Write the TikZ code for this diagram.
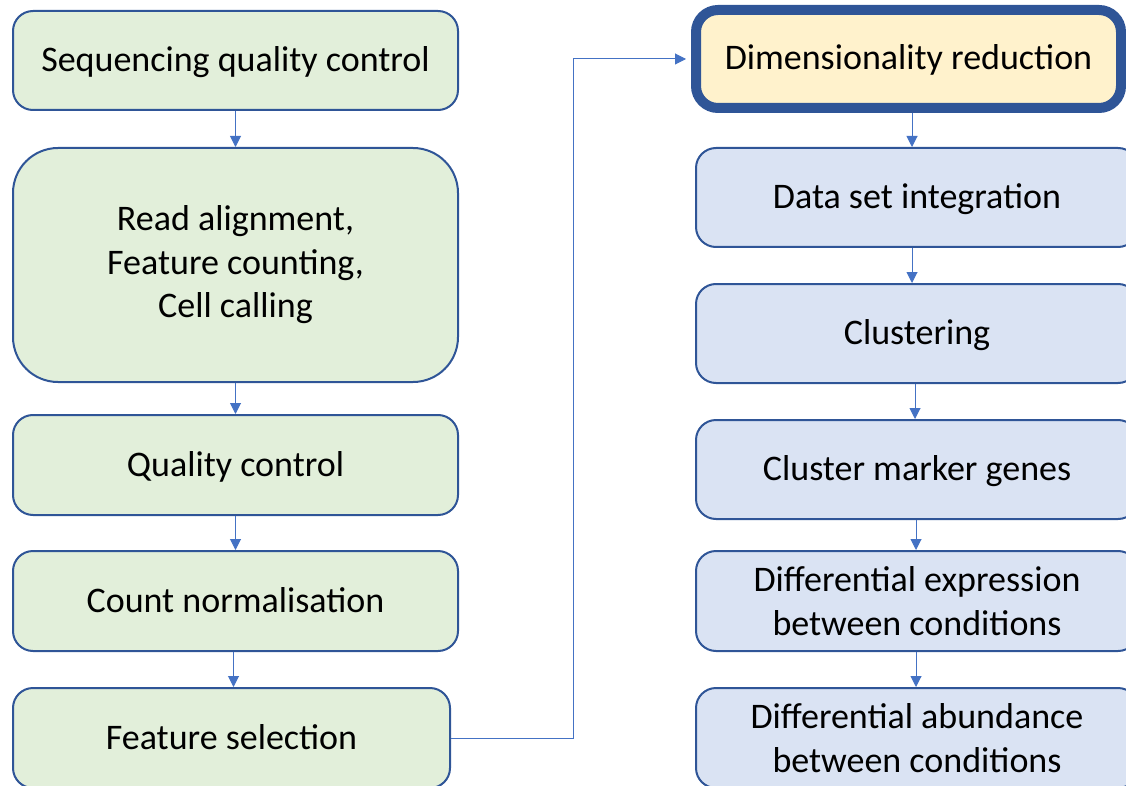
\documentclass[tikz,border=0pt]{standalone}
\usepackage{fontspec}
\setmainfont{Carlito}
\usetikzlibrary{arrows.meta}
\definecolor{bord}{HTML}{2F5597}
\definecolor{greenfill}{HTML}{E2EFDA}
\definecolor{bluefill}{HTML}{DAE3F3}
\definecolor{yellowfill}{HTML}{FFF2CC}
\definecolor{arrowc}{HTML}{4472C4}
\begin{document}
\begin{tikzpicture}[x=1pt,y=-1pt,
  box/.style={draw=bord,line width=2pt,rounded corners=20pt,rectangle,align=center,
     font=\fontsize{36}{43.5}\selectfont,inner sep=0pt},
  one/.style={text height=28pt,text depth=6pt},
  gbox/.style={box,fill=greenfill},
  bbox/.style={box,fill=bluefill},
  ybox/.style={box,fill=yellowfill,line width=10pt,rounded corners=22pt},
  conn/.style={draw=arrowc,line width=1pt,-{Triangle[length=11pt,width=11pt]}}]
\useasboundingbox (0,0) rectangle (1126,786);
\clip (0,0) rectangle (1126,786);
% left column
\node[gbox,one,minimum width=445pt,minimum height=99pt] (s1) at (235.5,60.5) {Sequencing quality control};
\node[gbox,minimum width=445pt,minimum height=234pt,rounded corners=45pt] (s2) at (235.5,265) {Read alignment,\\Feature counting,\\Cell calling};
\node[gbox,one,minimum width=445pt,minimum height=100pt] (s3) at (235.5,465) {Quality control};
\node[gbox,one,minimum width=445pt,minimum height=100pt] (s4) at (235.5,601) {Count normalisation};
\node[gbox,one,minimum width=437pt,minimum height=100pt] (s5) at (231.5,738) {Feature selection};
% right column
\node[ybox,one,minimum width=425pt,minimum height=98pt] (r1) at (908.5,59) {Dimensionality reduction};
\node[bbox,one,minimum width=442pt,minimum height=99pt] (r2) at (917,197.5) {Data set integration};
\node[bbox,one,minimum width=442pt,minimum height=99pt] (r3) at (917,333.5) {Clustering};
\node[bbox,one,minimum width=442pt,minimum height=99pt] (r4) at (917,469.5) {Cluster marker genes};
\node[bbox,minimum width=442pt,minimum height=100pt] (r5) at (917,601) {Differential expression\\between conditions};
\node[bbox,minimum width=442pt,minimum height=100pt] (r6) at (917,738) {Differential abundance\\between conditions};
% connectors
\draw[conn] (s1.south) -- (s2.north);
\draw[conn] (s2.south) -- (s3.north);
\draw[conn] (s3.south) -- (s4.north);
\draw[conn] ([xshift=-2pt]s4.south) -- ([xshift=-2pt]s4.south |- s5.north);
\draw[conn] (s5.east) -- ++(122,0) |- ([xshift=-5pt]r1.west);
\draw[conn] ([xshift=3.5pt]r1.south) -- ([xshift=3.5pt]r1.south |- r2.north);
\draw[conn] ([xshift=-5pt]r2.south) -- ([xshift=-5pt]r2.south |- r3.north);
\draw[conn] ([xshift=-2pt]r3.south) -- ([xshift=-2pt]r3.south |- r4.north);
\draw[conn] ([xshift=-1pt]r4.south) -- ([xshift=-1pt]r4.south |- r5.north);
\draw[conn] ([xshift=-1pt]r5.south) -- ([xshift=-1pt]r5.south |- r6.north);
\end{tikzpicture}
\end{document}
